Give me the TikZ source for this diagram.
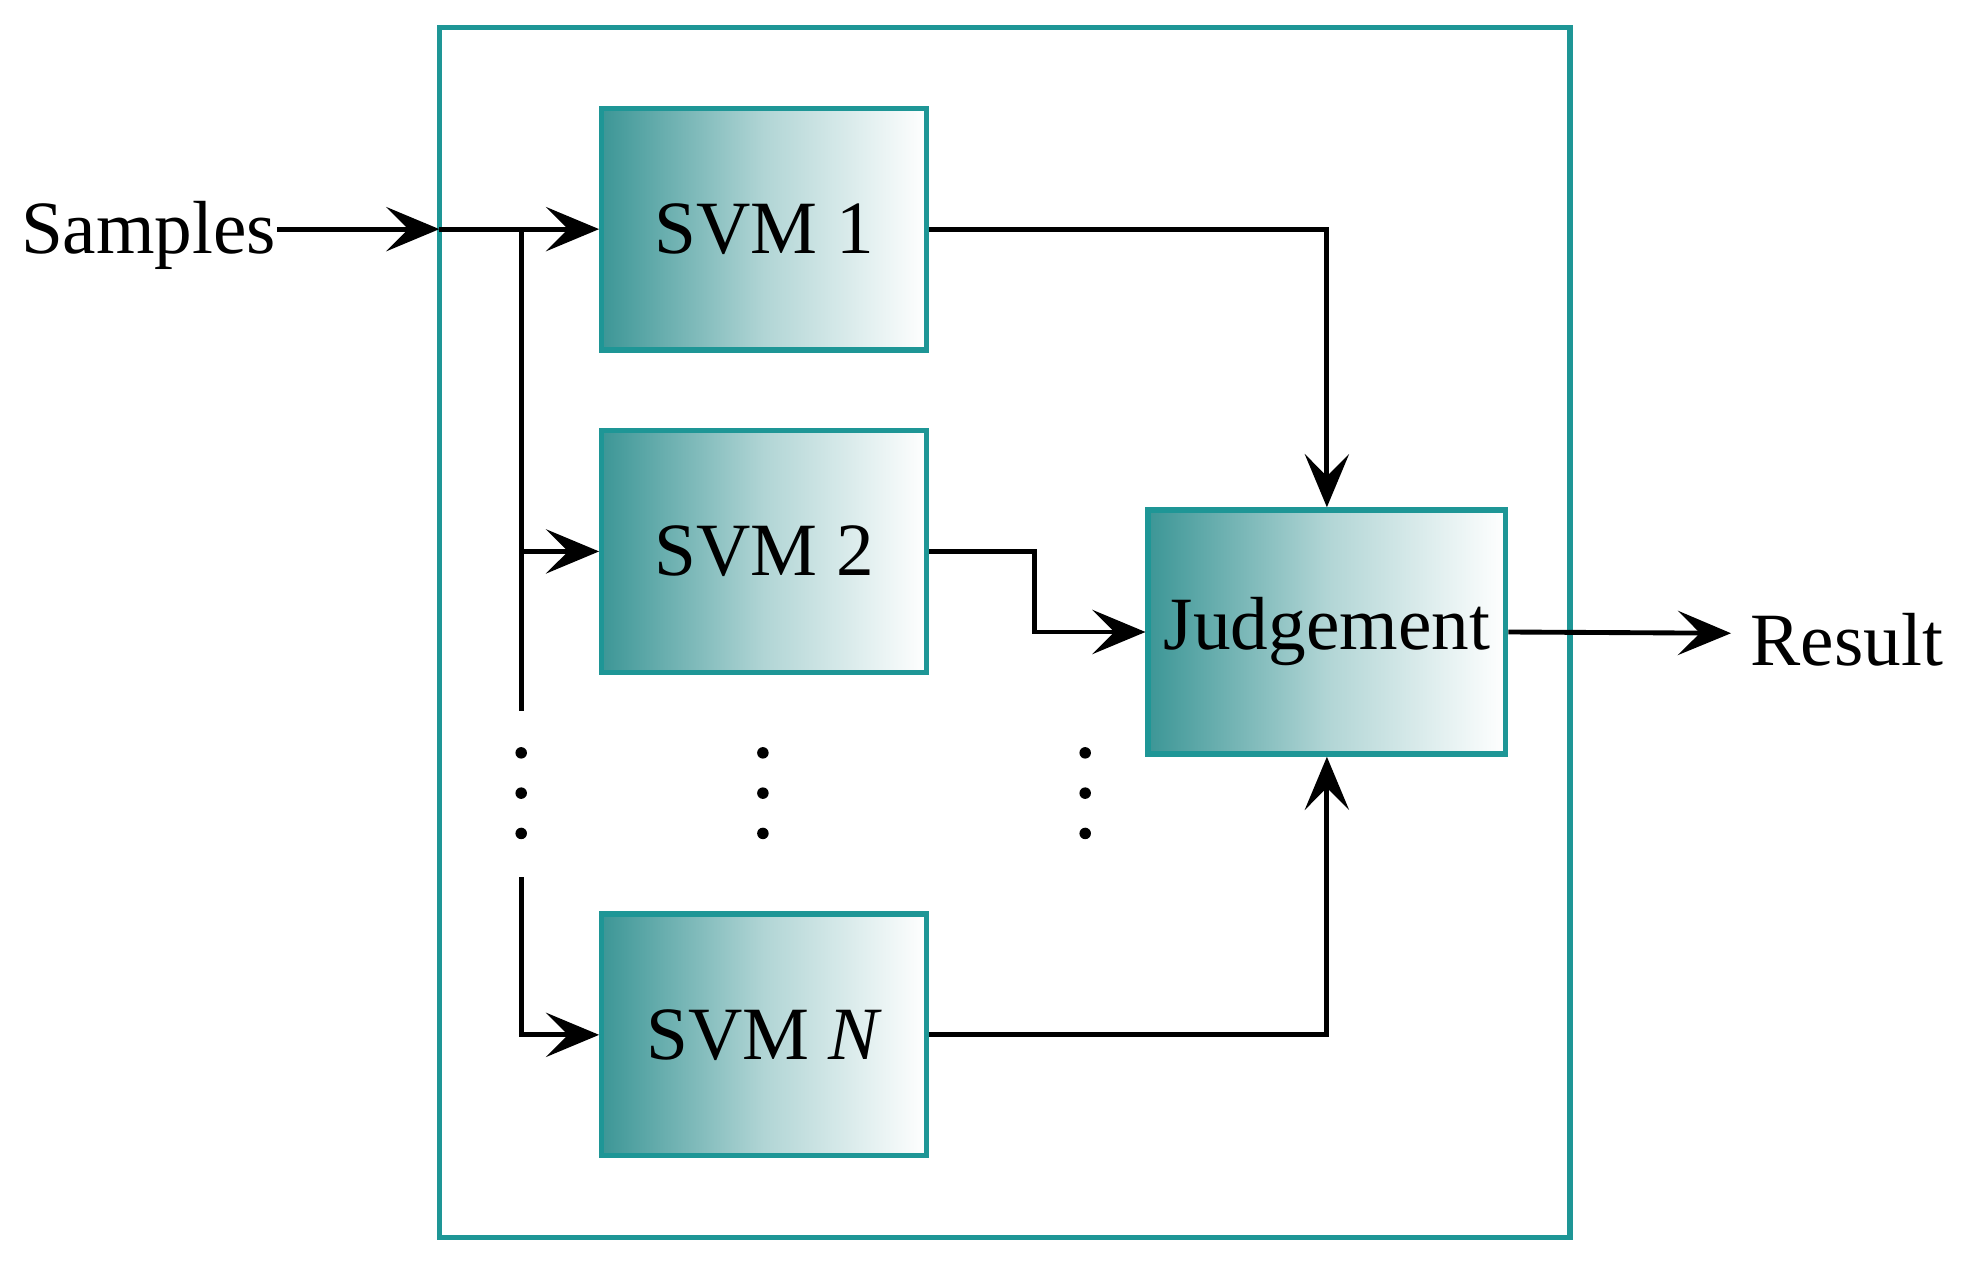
\documentclass[tikz,border=0pt]{standalone}
\usepackage{fontspec}
\setmainfont{Liberation Serif}
\usetikzlibrary{arrows.meta}
\definecolor{teal1}{RGB}{30,150,150}
\definecolor{teal2}{RGB}{60,150,150}
\begin{document}
\begin{tikzpicture}[x=0.01cm,y=-0.01cm,
  box/.style={draw=teal1,line width=1.2pt,left color=teal2,right color=white,middle color=teal2!40,minimum width=258*0.01cm,minimum height=192*0.01cm,inner sep=0pt,font=\fontsize{17}{20}\selectfont},
  ln/.style={line width=1.1pt},
  arr/.style={ln,-{Stealth[length=12pt,width=10pt,inset=5pt]}},
  lbl/.style={font=\fontsize{17}{20}\selectfont,inner sep=0pt},
  dot/.style={circle,fill=black,inner sep=0pt,minimum size=2.6pt}]
\useasboundingbox (0,0) rectangle (1568,1011);
\node[draw=teal1,line width=1.2pt,minimum width=898*0.01cm,minimum height=961*0.01cm,inner sep=0pt] (frame) at (798,502.5) {};
\node[box] (s1) at (607,182) {SVM 1};
\node[box] (s2) at (607,438) {SVM 2};
\node[box] (sn) at (607,822) {SVM \textit{N}};
\node[box,minimum width=284*0.01cm,minimum height=194*0.01cm] (j) at (1054,502) {Judgement};
\node[lbl,anchor=east] (samples) at (220,187) {Samples};
\node[lbl,anchor=west] (result) at (1390,508) {Result};
\coordinate (in) at (349,182);
\coordinate (b0) at (414,182);
\coordinate (b1) at (414,565);
\coordinate (b2) at (414,697);
\foreach \x/\n in {414/a,606/b,862/c}{
  \foreach \y/\m in {598/1,630/2,662/3}{\node[dot] (d\n\m) at (\x,\y) {};}}
\draw[arr] (samples.east |- in) -- (in);
\draw[arr] (in) -- (s1.west);
\draw[ln] (b0) -- (b1);
\draw[arr] (b0 |- s2.west) -- (s2.west);
\draw[arr] (b2) |- (sn.west);
\draw[arr] (s1.east) -| (j.north);
\draw[arr] (s2.east) -- (822,438) |- (j.west);
\draw[arr] (sn.east) -| (j.south);
\draw[arr] (j.east) -- (1375,503) coordinate (r);
\end{tikzpicture}
\end{document}
